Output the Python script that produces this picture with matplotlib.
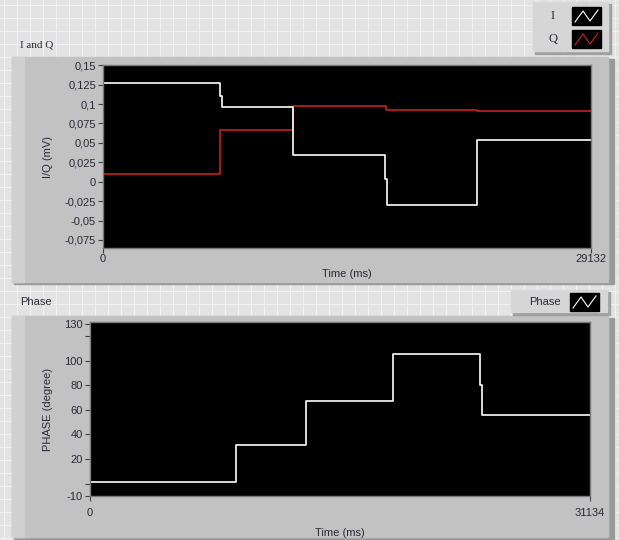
import matplotlib.pyplot as plt
from matplotlib.patches import Rectangle

# I and Q chart (ms, mV)
i_time = [0, 6990, 7110, 11340, 16860, 16950, 22330, 29132]
i_values = [0.127, 0.111, 0.096, 0.035, 0.003, -0.030, 0.054, 0.054]
q_time = [0, 7000, 11340, 16870, 22300, 29132]
q_values = [0.010, 0.066, 0.097, 0.093, 0.0915, 0.0915]
iq_yticks = [0.15, 0.125, 0.1, 0.075, 0.05, 0.025, 0, -0.025, -0.05, -0.075]
iq_ylabels = ["0,15", "0,125", "0,1", "0,075", "0,05", "0,025", "0",
              "-0,025", "-0,05", "-0,075"]
iq_xmax = 29132

# Phase chart (ms, degree)
p_time = [0, 9070, 13450, 18890, 24290, 24390, 31134]
p_values = [1, 31.4, 67.2, 105.4, 80.4, 56, 56]
p_yticks = [130, 120, 100, 80, 60, 40, 20, 0, -10]
p_ylabels = ["130", "", "100", "80", "60", "40", "20", "", "-10"]
p_xmax = 31134

W, H = 619, 540
SANS = "Liberation Sans"
SERIF = "Liberation Serif"
TXT = "#2a2a35"


def px_axes(fig, left, top, right, bottom):
    """Add axes using pixel coords measured from the top-left corner"""
    return fig.add_axes([left / W, 1 - bottom / H, (right - left) / W, (bottom - top) / H])


fig = plt.figure(figsize=(W / 100, H / 100), dpi=100)

# panel background with LabVIEW style grid
bg = fig.add_axes([0, 0, 1, 1])
bg.set_xlim(0, W)
bg.set_ylim(H, 0)
bg.axis("off")
bg.add_patch(Rectangle((0, 0), W, H, color="#e3e3e3", zorder=0))
for x in range(4, W, 13):
    bg.plot([x, x], [0, H], color="#f1f1f1", lw=0.8, zorder=1)
for y in range(5, H, 13):
    bg.plot([0, W], [y, y], color="#f1f1f1", lw=0.8, zorder=1)

# chart frames (shadow, body, light left strip)
for top, bottom in [(57, 282), (316, 537)]:
    bg.add_patch(Rectangle((14, top + 2), 600, bottom - top, color="#9a9a9a", zorder=2))
    bg.add_patch(Rectangle((12, top), 596, bottom - top, color="#c2c2c2", zorder=3))
    bg.add_patch(Rectangle((12, top), 12, bottom - top, color="#d0d0d0", zorder=3))

bg.text(20, 45, "I and Q", fontsize=8, family=SERIF, color=TXT, va="center", zorder=5)
bg.text(20, 302, "Phase", fontsize=8, family=SANS, color=TXT, va="center", zorder=5)

# legend boxes
bg.add_patch(Rectangle((535, 4), 76, 50, color="#a0a0a0", zorder=4))
bg.add_patch(Rectangle((533, 2), 75, 49, color="#d6d6d6", zorder=4))
bg.add_patch(Rectangle((513, 292), 97, 23, color="#a0a0a0", zorder=4))
bg.add_patch(Rectangle((511, 290), 96, 22, color="#d6d6d6", zorder=4))
legend_items = [("I", "white", 553, 16, 572, 7, SERIF, 9),
                ("Q", "#d02020", 553, 39, 572, 30, SERIF, 9),
                ("Phase", "white", 545, 302, 570, 293, SANS, 8)]
for name, col, tx, ty, sx, sy, fam, fs in legend_items:
    bg.text(tx, ty, name, fontsize=fs, family=fam, color=TXT, ha="center", va="center", zorder=6)
    bg.add_patch(Rectangle((sx, sy), 29, 18, color="black", zorder=6))
    bg.plot([sx + 3, sx + 11, sx + 18, sx + 26],
            [sy + 15, sy + 4, sy + 14, sy + 3], color=col, lw=0.8, zorder=7)


def style_chart(ax, xmax, yticks, ylabels, ylim, ylabel, label_x, xpad, xlabelpad):
    ax.set_facecolor("black")
    ax.set_xlim(0, xmax)
    ax.set_ylim(*ylim)
    ax.set_yticks(yticks)
    ax.set_yticklabels(ylabels)
    ax.set_xticks([0, xmax])
    ax.set_xticklabels(["0", str(xmax)])
    ax.tick_params(axis="both", direction="out", length=3.5, width=0.8, color="#404040",
                   labelsize=8, labelcolor=TXT, pad=1.5)
    ax.tick_params(axis="x", pad=xpad)
    for lab in ax.get_xticklabels() + ax.get_yticklabels():
        lab.set_family(SANS)
    for sp in ax.spines.values():
        sp.set_color("#7a7a7a")
        sp.set_linewidth(1.0)
    ax.set_xlabel("Time (ms)", fontsize=8, family=SANS, color=TXT, labelpad=xlabelpad)
    ax.set_ylabel(ylabel, fontsize=8, family=SANS, color=TXT)
    ax.yaxis.set_label_coords(label_x, 0.5)


ax1 = px_axes(fig, 103, 65, 591, 248)
ax1.plot(q_time, q_values, drawstyle="steps-post", color="#c42020", lw=1.2)
ax1.plot(i_time, i_values, drawstyle="steps-post", color="white", lw=1.2)
style_chart(ax1, iq_xmax, iq_yticks, iq_ylabels, (-0.0853, 0.1503), "I/Q (mV)",
            -0.102, 0.5, 4)

ax2 = px_axes(fig, 90, 322, 590, 496)
ax2.plot(p_time, p_values, drawstyle="steps-post", color="white", lw=1.2)
style_chart(ax2, p_xmax, p_yticks, p_ylabels, (-10, 131.4), "PHASE (degree)",
            -0.074, 5, 7)

fig.savefig("out.png", dpi=100)
